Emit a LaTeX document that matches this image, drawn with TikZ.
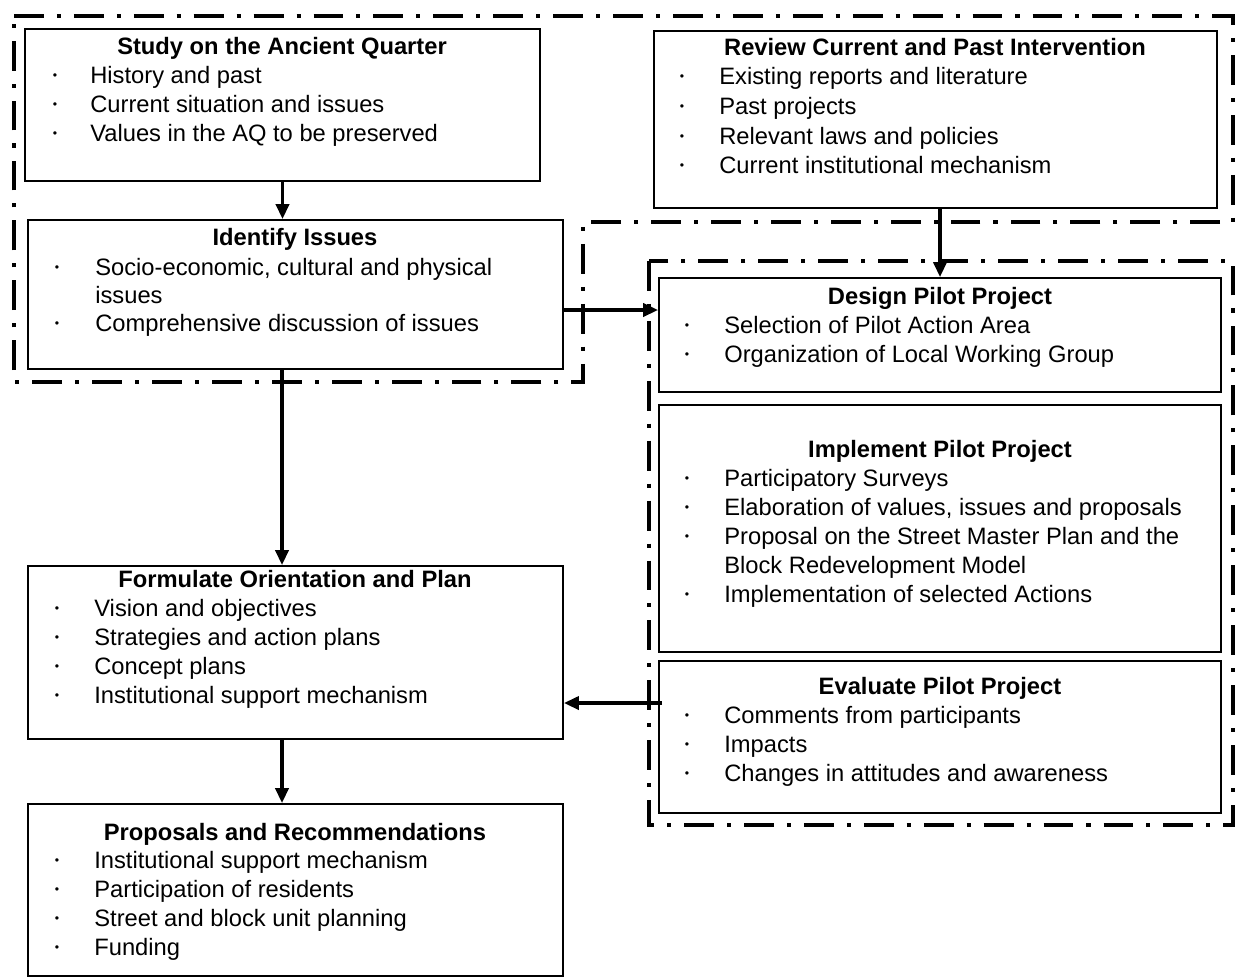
\documentclass[tikz,border=0pt]{standalone}
\usepackage{fontspec}
\setmainfont{Liberation Sans}
\usetikzlibrary{arrows.meta,fit}
\tikzset{
  box/.style={draw, line width=1pt, inner sep=0pt},
  ttl/.style={font=\fontsize{13.5}{16}\selectfont\bfseries, anchor=base, inner sep=0pt},
  itm/.style={font=\fontsize{13.5}{16}\selectfont, anchor=base west, inner sep=0pt},
  dot/.style={font=\fontsize{7}{8}\selectfont, anchor=base, inner sep=0pt, yshift=0.08cm},
  zone/.style={line width=2.2pt, dash pattern=on 17pt off 7.4pt on 2.3pt off 7.4pt},
  arr/.style={line width=2pt, -{Triangle[length=0.3cm,width=0.26cm]}}
}
\begin{document}
\begin{tikzpicture}[x=0.02cm,y=-0.02cm]
\useasboundingbox (0,0) rectangle (1236,978);
% dash-dot zones
\draw[zone] (14,16) -- (1233,16) -- (1233,222) -- (583,222) -- (583,382) -- (14,382) -- cycle;
\draw[zone] (649,261) rectangle (1233,825);
% boxes
\node[box, fit={(25,29) (540,181)}] (study) {};
\node[box, fit={(654,31) (1217,208)}] (review) {};
\node[box, fit={(28,220) (563,369)}] (ident) {};
\node[box, fit={(659,278) (1221,392)}] (design) {};
\node[box, fit={(659,405) (1221,652)}] (impl) {};
\node[box, fit={(659,661) (1221,813)}] (eval) {};
\node[box, fit={(28,566) (563,739)}] (form) {};
\node[box, fit={(28,804) (563,976)}] (prop) {};
% titles
\node[ttl] (studyT) at (282,54) {Study on the Ancient Quarter};
\node[ttl] (reviewT) at (935,55) {Review Current and Past Intervention};
\node[ttl] (identT) at (295,245) {Identify Issues};
\node[ttl] (designT) at (940,304) {Design Pilot Project};
\node[ttl] (implT) at (940,457) {Implement Pilot Project};
\node[ttl] (evalT) at (940,694) {Evaluate Pilot Project};
\node[ttl] (formT) at (295,587) {Formulate Orientation and Plan};
\node[ttl] (propT) at (295,840) {Proposals and Recommendations};
% bullet lines
\foreach \y/\b/\t [count=\i] in {83/•/{History and past},112/•/{Current situation and issues},141/•/{Values in the AQ to be preserved}}
{\node[dot] (studyB\i) at (55,\y) {\b}; \node[itm] (studyL\i) at (90,\y) {\t};}
\foreach \y/\b/\t [count=\i] in {84/•/{Existing reports and literature},114/•/{Past projects},144/•/{Relevant laws and policies},173/•/{Current institutional mechanism}}
{\node[dot] (reviewB\i) at (682,\y) {\b}; \node[itm] (reviewL\i) at (719,\y) {\t};}
\foreach \y/\b/\t [count=\i] in {275/•/{Socio-economic, cultural and physical},303//{issues},331/•/{Comprehensive discussion of issues}}
{\node[dot] (identB\i) at (57,\y) {\b}; \node[itm] (identL\i) at (95,\y) {\t};}
\foreach \y/\b/\t [count=\i] in {333/•/{Selection of Pilot Action Area},362/•/{Organization of Local Working Group}}
{\node[dot] (designB\i) at (687,\y) {\b}; \node[itm] (designL\i) at (724,\y) {\t};}
\foreach \y/\b/\t [count=\i] in {486/•/{Participatory Surveys},515/•/{Elaboration of values, issues and proposals},544/•/{Proposal on the Street Master Plan and the},573//{Block Redevelopment Model},602/•/{Implementation of selected Actions}}
{\node[dot] (implB\i) at (687,\y) {\b}; \node[itm] (implL\i) at (724,\y) {\t};}
\foreach \y/\b/\t [count=\i] in {723/•/{Comments from participants},752/•/{Impacts},781/•/{Changes in attitudes and awareness}}
{\node[dot] (evalB\i) at (687,\y) {\b}; \node[itm] (evalL\i) at (724,\y) {\t};}
\foreach \y/\b/\t [count=\i] in {616/•/{Vision and objectives},645/•/{Strategies and action plans},674/•/{Concept plans},703/•/{Institutional support mechanism}}
{\node[dot] (formB\i) at (57,\y) {\b}; \node[itm] (formL\i) at (94,\y) {\t};}
\foreach \y/\b/\t [count=\i] in {868/•/{Institutional support mechanism},897/•/{Participation of residents},926/•/{Street and block unit planning},955/•/{Funding}}
{\node[dot] (propB\i) at (57,\y) {\b}; \node[itm] (propL\i) at (94,\y) {\t};}
% arrows
\draw[arr] (study.south) -- (study.south |- ident.north);
\draw[arr] (design.north |- review.south) -- (design.north);
\draw[arr] ([yshift=-0.31cm]ident.east) -- ([yshift=-0.31cm]ident.east -| design.west);
\draw[arr] ([xshift=-0.27cm]ident.south) -- ([xshift=-0.27cm]form.north);
\draw[arr] ([yshift=0.68cm,xshift=0.08cm]eval.west) -- ([yshift=0.68cm]eval.west -| form.east);
\draw[arr] ([xshift=-0.27cm]form.south) -- ([xshift=-0.27cm]prop.north);
\end{tikzpicture}
\end{document}
